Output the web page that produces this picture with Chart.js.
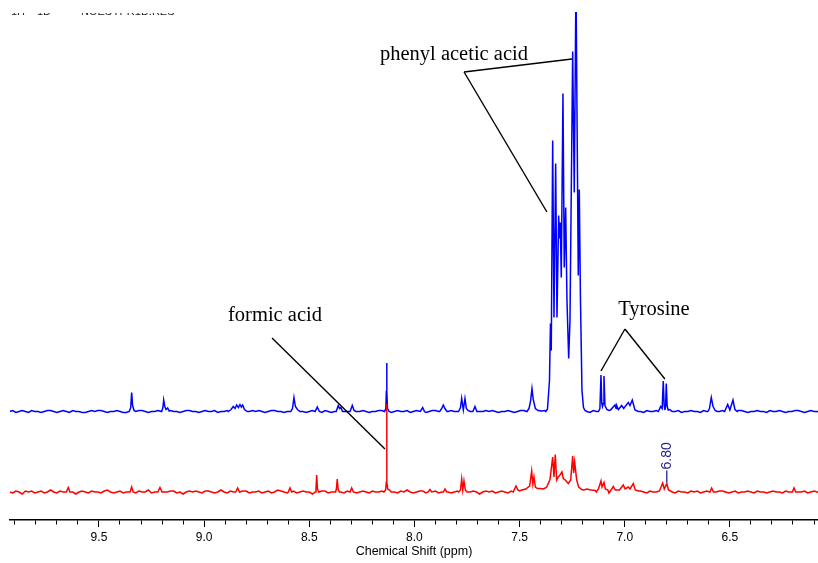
<!DOCTYPE html>
<html>
<head>
<meta charset="utf-8">
<script src="https://cdn.jsdelivr.net/npm/chart.js@4.4.1/dist/chart.umd.min.js"></script>
<style>
  html, body { margin: 0; padding: 0; background: #ffffff; }
  canvas { display: block; }
</style>
</head>
<body>
<canvas id="nmr" width="818" height="563"></canvas>
<script>
// Chemical-shift window (ppm); the axis runs high field to the right
const shiftMax = 9.923;
const shiftMin = 6.081;
const majorTicks = [9.5, 9.0, 8.5, 8.0, 7.5, 7.0, 6.5];
const minorStep = 0.1;

// Baseline samples: first point at gridStart, then one every gridStep ppm
const gridStart = 9.925;
const gridStep = 0.015;

const blueNoise = [
   0, 1,-1, 0, 1, 0,-1, 1, 0, 0,-1, 0, 1, 1, 0,-1, 0, 1, 0,-1,
   1, 0, 0,-1,-1, 0, 1, 0, 1, 1, 0,-1, 0, 0, 1, 0,-1,-1, 0, 1,
   0, 1, 1, 0,-1, 0, 0, 1, 0,-1, 0, 1, 0, 0,-1, 0, 1, 1, 0, 0,
  -1, 0, 1, 0, 0, 1,-1, 0, 0, 1, 0,-1, 1, 0, 0,-1, 0, 1, 0, 1,
   0,-1, 0, 1, 1, 0, 0,-1, 0, 1, 2, 1, 0, 0,-1, 0, 1, 0, 0,-1,
   1, 0,-1, 0, 1, 1, 0, 0,-1, 1, 0, 0, 1, 0,-1, 0, 0, 1, 1, 0,
   0,-1, 0, 1, 0, 0, 1,-1, 0, 1, 0, 0,-1, 0, 1, 1, 0,-1, 0, 0,
   1, 0, 0,-1, 1, 0, 1, 0,-1, 0, 0, 1, 0, 1, 0,-1, 0, 0, 1, 0,
  -1, 0, 1, 1, 0, 0,-1, 0, 1, 0, 0, 1,-1, 0, 0, 1, 0, 1, 0,-1,
   0, 1, 0, 0,-1, 1, 0, 0, 1, 0,-1, 0, 1, 0, 0, 1,-1, 0, 1, 0,
   0,-1, 1, 0, 0, 1, 0,-1, 0, 1, 0, 0, 1,-1, 0, 0, 1, 0, 0,-1,
   1, 0, 0, 1,-1, 0, 1, 0, 0,-1, 0, 1, 1, 0,-1, 0, 0, 1, 0, 0,
  -1, 1, 0, 0, 1, 0,-1, 0, 0, 1, 1, 0,-1, 0, 1, 0, 0,-1, 1, 0
];

const redNoise = [
   0,-1, 1, 0,-2, 1, 0, 1,-1, 0, 1,-1, 0, 2, 0,-1, 1, 0,-1, 1,
   0,-2, 0, 1, 0,-1, 1, 0, 0,-1, 1, 2, 0,-1, 0, 1,-1, 0, 1, 0,
  -1, 1, 0, 0, 2,-1, 0, 1,-1, 0, 0, 1, 1,-1, 0,-2, 0, 1, 0, 1,
   0,-1, 1, 1, 0,-1, 0, 2, 0,-1, 1, 0,-1, 0, 1, 1,-1, 0, 0, 1,
  -1, 0, 1,-1, 0, 2, 1, 0,-1, 0, 1,-1, 0, 1, 0, 0,-2, 1, 0, 1,
   1,-1, 0, 0, 1, 0,-1, 1, 2, 0,-1, 0, 1, 0,-1, 1, 0, 0, 1,-1,
   0, 1, 0,-1, 1, 0, 2, 0,-1, 0, 1, 1,-1, 0, 0, 1,-1, 0, 1, 0,
  -1, 0, 1, 0,-1, 1, 0, 1, 0,-2, 0, 1, 0, 1,-1, 0, 1, 0,-1, 1,
   0, 0,-1, 1, 0, 1,-1, 0, 2, 0,-1, 1, 0, 0,-1, 1, 0,-1, 0, 1,
   1, 0,-1, 0, 1,-1, 0, 1, 0, 0,-1, 1, 2, 0,-1, 0, 1, 0,-2, 0,
   1, 0,-1, 1, 0, 0, 1,-1, 0, 1, 0,-1, 1, 0, 0,-1, 1, 0, 1,-1,
   0, 1, 0,-1, 0, 1, 1, 0,-1, 0, 1,-1, 0, 0, 1, 0,-1, 1, 0, 0,
  -1, 0, 1, 0, 0,-1, 1, 0, 1,-1, 0, 0, 1,-1, 0, 1, 0,-1, 0, 1
];

// Resonances as runs of [ppm, intensity above the trace baseline]
const bluePeaks = [
  [[9.356,0],[9.349,4],[9.3445,19],[9.340,6],[9.333,1]],
  [[9.202,0],[9.196,4],[9.1923,11.5],[9.187,5],[9.181,2],[9.1733,3.5],[9.166,0.5]],
  [[8.885,0],[8.872,2],[8.8614,5],[8.853,3],[8.8452,6.5],[8.837,4],[8.8295,7],[8.823,4.5],[8.8167,6.5],[8.808,2],[8.795,0]],
  [[8.588,0],[8.580,3],[8.5728,14],[8.566,5],[8.556,2],[8.545,0]],
  [[8.472,0],[8.4620,4.5],[8.452,0]],
  [[8.372,0],[8.3621,6],[8.356,3],[8.350,4],[8.342,0]],
  [[8.306,0],[8.2955,6],[8.287,1],[8.279,0]],
  [[8.142,0],[8.136,3],[8.1335,20],[8.132,48.5],[8.1305,20],[8.128,3],[8.120,0]],
  [[7.972,0],[7.9608,4],[7.952,0]],
  [[7.880,0],[7.870,3],[7.8628,6.5],[7.855,3],[7.845,0]],
  [[7.790,0],[7.781,4],[7.7753,13],[7.7675,1.5],[7.7596,13],[7.753,3],[7.745,1],[7.735,0]],
  [[7.722,0],[7.7121,5],[7.703,0]],
  [[7.465,0],[7.455,3],[7.448,10],[7.4410,23],[7.435,12],[7.425,3],[7.412,1],[7.395,0.5],[7.380,1]],
  [[7.3673,2.5],[7.3578,31],[7.3531,88],[7.3493,61],[7.3426,271],[7.3364,94],[7.3284,248],[7.3222,94],
   [7.3141,196],[7.3103,173],[7.3065,189],[7.3017,134],[7.2937,318],[7.2875,144],[7.2808,204],[7.2746,111],
   [7.2665,53],[7.2603,91],[7.2475,360],[7.2399,219],[7.2318,430],[7.2209,136],[7.2161,222],[7.2104,111],
   [7.2033,21],[7.1961,4],[7.1890,1]],
  [[7.125,0],[7.118,3],[7.1129,36.5],[7.109,8],[7.1058,5],[7.102,8],[7.0987,35.5],[7.094,6],[7.085,2],[7.075,1]],
  [[7.068,1.5],[7.0464,6.5],[7.041,3],[7.0383,6],[7.030,2],[7.0145,6],[7.005,3],[6.9831,9],[6.975,6],[6.9641,11.5],[6.9513,1.5],[6.935,0]],
  [[6.840,0],[6.8291,5],[6.822,3],[6.8167,30.5],[6.8125,6],[6.8086,1.5],[6.8055,6],[6.8025,28],[6.798,5],[6.7930,1.5],[6.785,2],[6.775,0]],
  [[6.605,0],[6.597,3],[6.5885,14],[6.580,5],[6.570,1],[6.560,0]],
  [[6.525,0],[6.5105,7],[6.500,1.5],[6.4853,11.5],[6.476,2],[6.465,0]]
];

const redPeaks = [
  [[9.655,0],[9.646,4.5],[9.638,0]],
  [[9.352,0],[9.3445,5],[9.337,0]],
  [[9.220,0],[9.2099,4.5],[9.200,0]],
  [[8.850,0],[8.8405,4],[8.832,0]],
  [[8.600,0],[8.5918,4],[8.584,0]],
  [[8.472,0],[8.468,3],[8.4648,17],[8.461,3],[8.455,0]],
  [[8.375,0],[8.371,3],[8.3669,13],[8.363,3],[8.357,0]],
  [[8.306,0],[8.2984,4],[8.290,0]],
  [[8.145,0],[8.137,2],[8.1335,10],[8.132,88],[8.1305,10],[8.127,3],[8.118,2],[8.110,0]],
  [[7.935,0],[7.926,2.5],[7.918,0]],
  [[7.862,0],[7.8547,3],[7.846,0]],
  [[7.790,0],[7.781,2],[7.7753,13],[7.770,2],[7.7644,11],[7.758,2],[7.750,0]],
  [[7.530,0],[7.5171,6],[7.508,2],[7.500,1],[7.490,2],[7.470,3],[7.458,5]],
  [[7.452,6],[7.4425,21],[7.437,8],[7.4315,15],[7.425,5],[7.415,3.5],[7.400,3.5],[7.388,3],[7.378,4]],
  [[7.3711,5],[7.3554,12.5],[7.3426,35],[7.3364,15],[7.3303,37.5],[7.3236,12],[7.3160,15],[7.3079,17],
   [7.2984,20],[7.2922,13.5],[7.2827,12],[7.2684,8.5],[7.2570,12],[7.2475,36],[7.2428,19],[7.2380,30],
   [7.2285,12],[7.2190,5],[7.2047,2.5],[7.195,2],[7.180,3],[7.160,2],[7.140,1.5]],
  [[7.125,3],[7.1129,11],[7.108,5],[7.0987,9.5],[7.092,3],[7.080,2]],
  [[7.065,2],[7.0544,5.5],[7.045,2],[7.025,2],[7.0069,7],[6.998,3],[6.9831,5],[6.975,3],[6.9593,8.5],[6.950,2],[6.935,1]],
  [[6.835,1],[6.8196,9],[6.812,3],[6.800,8.5],[6.792,2],[6.782,1]],
  [[6.595,0],[6.5866,4],[6.578,0]],
  [[6.203,0],[6.1952,4],[6.187,0]]
];

// Stacking of the two traces on the intensity axis
const blueOffset = 108.5;
const redOffset = 28;
const intensityTop = 508;

// Peak picked on the lower trace
const labelledShift = 6.80;

// Callout texts with their leader lines, in (ppm, intensity) units
const callouts = [
  { text: 'phenyl acetic acid', at: [7.812, 465],
    legs: [[[7.764, 448], [7.370, 308]], [[7.764, 448], [7.251, 461]]] },
  { text: 'Tyrosine', at: [6.861, 210],
    legs: [[[6.999, 191], [7.113, 149]], [[6.999, 191], [6.809, 141]]] },
  { text: 'formic acid', at: [8.663, 204],
    legs: [[[8.677, 182], [8.140, 71]]] }
];

const headerParts = [['1H', 11], ['1D', 37], ['NOESYPR1D.RES', 81]];

function buildTrace(noise, peaks, offset) {
  const spans = peaks.map(run => {
    const xs = run.map(p => p[0]);
    return [Math.min(...xs) - 0.003, Math.max(...xs) + 0.003];
  });
  const pts = [];
  noise.forEach((v, i) => {
    const ppm = gridStart - i * gridStep;
    if (!spans.some(([lo, hi]) => ppm >= lo && ppm <= hi)) pts.push({ x: ppm, y: offset + v });
  });
  peaks.forEach(run => run.forEach(([ppm, h]) => pts.push({ x: ppm, y: offset + h })));
  pts.sort((a, b) => b.x - a.x);
  return pts;
}

const isMajor = v => majorTicks.some(t => Math.abs(t - v) < 1e-6);

const calloutPlugin = {
  id: 'callouts',
  afterDatasetsDraw(chart) {
    const { ctx, scales: { x, y } } = chart;
    ctx.save();
    ctx.strokeStyle = '#000000';
    ctx.lineWidth = 1.4;
    ctx.fillStyle = '#000000';
    ctx.font = '20.5px "Liberation Serif"';
    ctx.textAlign = 'center';
    ctx.textBaseline = 'middle';
    callouts.forEach(c => {
      c.legs.forEach(([a, b]) => {
        ctx.beginPath();
        ctx.moveTo(x.getPixelForValue(a[0]), y.getPixelForValue(a[1]));
        ctx.lineTo(x.getPixelForValue(b[0]), y.getPixelForValue(b[1]));
        ctx.stroke();
      });
      ctx.fillText(c.text, x.getPixelForValue(c.at[0]), y.getPixelForValue(c.at[1]));
    });

    // shift label above the picked peak of the lower trace
    const picked = redPeaks.flat().find(p => Math.abs(p[0] - labelledShift) < 1e-6);
    const px = x.getPixelForValue(labelledShift);
    const py = y.getPixelForValue(redOffset + picked[1]);
    ctx.strokeStyle = '#25258f';
    ctx.lineWidth = 1.3;
    ctx.beginPath();
    ctx.moveTo(px, py - 1);
    ctx.lineTo(px, py - 13);
    ctx.stroke();
    ctx.translate(px, py - 14);
    ctx.rotate(-Math.PI / 2);
    ctx.fillStyle = '#25258f';
    ctx.font = '14px "Liberation Sans"';
    ctx.textAlign = 'left';
    ctx.textBaseline = 'middle';
    ctx.fillText(labelledShift.toFixed(2), 0, 0);
    ctx.restore();

    // run header, cut off by the top edge of the plot
    ctx.save();
    ctx.beginPath();
    ctx.rect(0, 13, 300, 4);
    ctx.clip();
    ctx.fillStyle = '#222222';
    ctx.font = '11px "Liberation Sans"';
    ctx.textAlign = 'left';
    ctx.textBaseline = 'alphabetic';
    headerParts.forEach(([t, left]) => ctx.fillText(t, left, 14.6));
    ctx.restore();
  }
};

new Chart(document.getElementById('nmr'), {
  type: 'scatter',
  data: {
    datasets: [
      { label: 'lower', data: buildTrace(redNoise, redPeaks, redOffset), showLine: true,
        borderColor: '#ff0000', borderWidth: 1.5, pointRadius: 0, tension: 0, order: 0 },
      { label: 'upper', data: buildTrace(blueNoise, bluePeaks, blueOffset), showLine: true,
        borderColor: '#0000ff', borderWidth: 1.5, pointRadius: 0, tension: 0, order: 1 }
    ]
  },
  options: {
    responsive: false,
    animation: false,
    devicePixelRatio: 1,
    layout: { padding: { left: 10, right: 0, top: 12, bottom: 0 } },
    plugins: { legend: { display: false }, tooltip: { enabled: false }, title: { display: false } },
    scales: {
      x: {
        type: 'linear',
        reverse: true,
        min: shiftMin,
        max: shiftMax,
        afterFit: s => { s.height = 43; },
        border: { display: true, color: '#000000', width: 1.5 },
        grid: {
          display: true,
          drawOnChartArea: false,
          drawTicks: true,
          tickLength: 7,
          tickColor: '#000000',
          tickWidth: 1,
          tickBorderDash: ctx => (ctx.tick && isMajor(ctx.tick.value)) ? [] : [4, 20]
        },
        ticks: {
          stepSize: minorStep,
          includeBounds: false,
          autoSkip: false,
          maxRotation: 0,
          padding: 3,
          color: '#000000',
          font: { family: 'Liberation Sans', size: 12 },
          callback: v => isMajor(v) ? Number(v).toFixed(1) : ''
        },
        title: {
          display: true,
          text: 'Chemical Shift (ppm)',
          color: '#000000',
          font: { family: 'Liberation Sans', size: 12.5 },
          padding: { top: 0, bottom: 3.5 }
        }
      },
      y: { display: false, min: 0, max: intensityTop }
    }
  },
  plugins: [calloutPlugin]
});
</script>
</body>
</html>
